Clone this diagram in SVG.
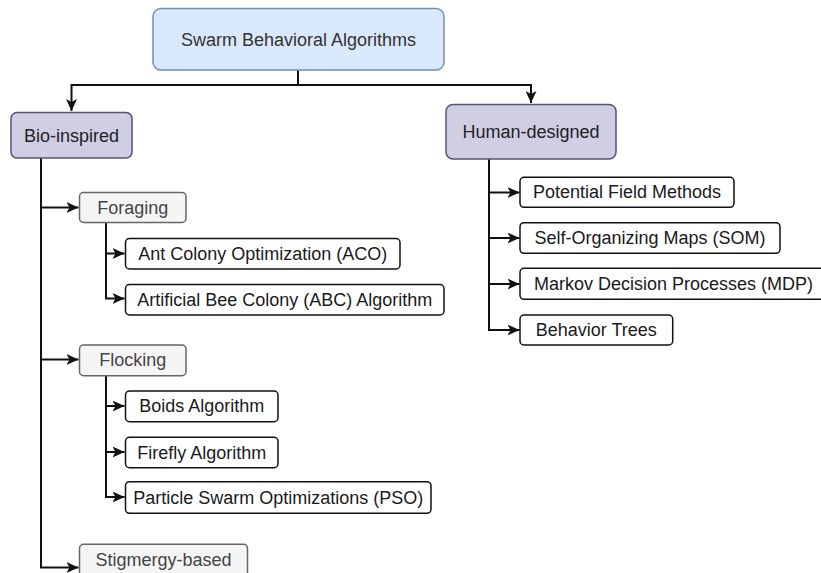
<svg xmlns="http://www.w3.org/2000/svg" width="821" height="573" viewBox="0 0 821 573">
<style>
text{font-family:"Liberation Sans",Arial,sans-serif;font-size:18px;text-anchor:middle;dominant-baseline:central}
.root rect{fill:#dae8fc;stroke:#6c8ebf;stroke-width:1.5}
.root text{fill:#333333}
.cat rect{fill:#d0cee2;stroke:#56517e;stroke-width:1.5}
.cat text{fill:#222222}
.sub rect{fill:#f5f5f5;stroke:#666666;stroke-width:1.5}
.sub text{fill:#444444}
.leaf rect{fill:#ffffff;stroke:#111111;stroke-width:1.5}
.leaf text{fill:#1a1a1a}
.edges path{fill:none;stroke:#111111;stroke-width:2;marker-end:url(#arr)}
</style>
<defs>
<marker id="arr" markerUnits="userSpaceOnUse" markerWidth="13" markerHeight="11" refX="12" refY="5.5" orient="auto">
<path d="M0,0 L12,5.5 L0,11 L3,5.5 Z" fill="#111111"/>
</marker>
</defs>
<rect width="821" height="573" fill="#ffffff"/>
<g class="edges" id="connectors">
<path d="M298,70 V85 H71.5 V111"/>
<path d="M298,85 H531 V103"/>
<path d="M41,158 V567.5 H78.5"/>
<path d="M41,207.5 H78.5"/>
<path d="M41,359.5 H78.5"/>
<path d="M106,222.7 V298.5 H124.5"/>
<path d="M106,253.5 H124.5"/>
<path d="M106,375.7 V497 H124.5"/>
<path d="M106,406 H124.5"/>
<path d="M106,452 H124.5"/>
<path d="M489,159 V330 H519.5"/>
<path d="M489,192.5 H519.5"/>
<path d="M489,238 H519.5"/>
<path d="M489,284 H519.5"/>
</g>
<g id="root" class="root"><rect x="153" y="8.5" width="291" height="61.5" rx="8"/><text x="298.5" y="39.5">Swarm Behavioral Algorithms</text></g>
<g id="bio" class="cat"><rect x="11" y="112.5" width="121" height="45.5" rx="6"/><text x="71.5" y="135.5">Bio-inspired</text></g>
<g id="human" class="cat"><rect x="446" y="104.5" width="170" height="54.5" rx="7"/><text x="531" y="131.5">Human-designed</text></g>
<g id="foraging" class="sub"><rect x="79.5" y="192.5" width="106.5" height="30" rx="4"/><text x="132.7" y="207.5">Foraging</text></g>
<g id="flocking" class="sub"><rect x="79.5" y="345" width="106.5" height="30.7" rx="4"/><text x="132.7" y="360">Flocking</text></g>
<g id="stigmergy" class="sub"><rect x="79.5" y="544.3" width="168" height="32" rx="4"/><text x="163.5" y="559.5">Stigmergy-based</text></g>
<g id="aco" class="leaf"><rect x="125.5" y="238.5" width="274.5" height="30.5" rx="4"/><text x="262.7" y="253.7">Ant Colony Optimization (ACO)</text></g>
<g id="abc" class="leaf"><rect x="125.5" y="284.5" width="318.5" height="30.5" rx="4"/><text x="284.7" y="299.7">Artificial Bee Colony (ABC) Algorithm</text></g>
<g id="boids" class="leaf"><rect x="125.5" y="391" width="152.5" height="30.7" rx="4"/><text x="201.7" y="406.3">Boids Algorithm</text></g>
<g id="firefly" class="leaf"><rect x="125.5" y="437.3" width="152.5" height="30.4" rx="4"/><text x="201.7" y="452.5">Firefly Algorithm</text></g>
<g id="pso" class="leaf"><rect x="125.5" y="481.7" width="305.5" height="31.6" rx="4"/><text x="278.2" y="497.5">Particle Swarm Optimizations (PSO)</text></g>
<g id="pfm" class="leaf"><rect x="520" y="177.3" width="214" height="30" rx="4"/><text x="627" y="192.3">Potential Field Methods</text></g>
<g id="som" class="leaf"><rect x="520" y="222.7" width="260" height="30.6" rx="4"/><text x="650" y="238">Self-Organizing Maps (SOM)</text></g>
<g id="mdp" class="leaf"><rect x="520" y="268.3" width="307" height="31" rx="4"/><text x="673.5" y="283.8">Markov Decision Processes (MDP)</text></g>
<g id="bt" class="leaf"><rect x="520" y="315" width="152.7" height="30" rx="4"/><text x="596.3" y="330">Behavior Trees</text></g>
</svg>
